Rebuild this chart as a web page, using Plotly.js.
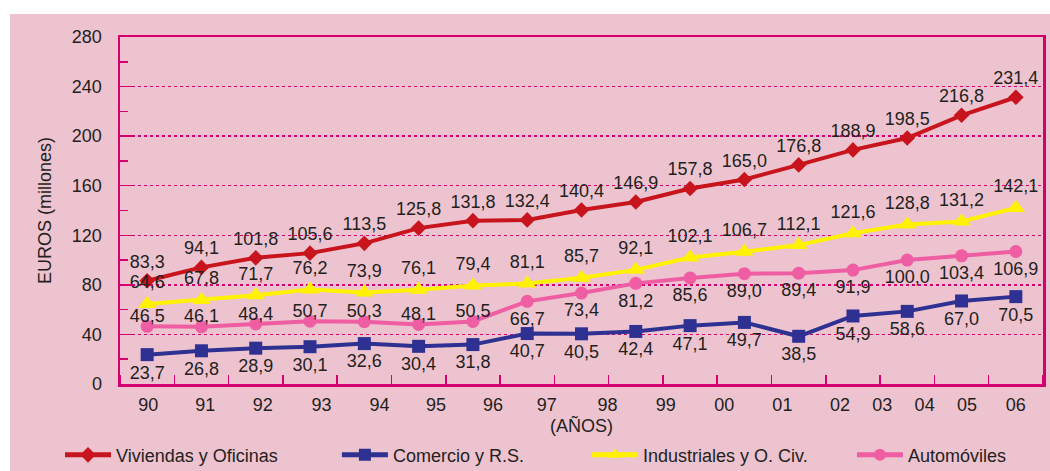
<!DOCTYPE html>
<html>
<head>
<meta charset="utf-8">
<script src="https://cdn.plot.ly/plotly-3.0.1.min.js"></script>
<style>
  html, body { margin: 0; padding: 0; background: #ffffff; width: 1050px; height: 471px; overflow: hidden; }
  #chart { position: absolute; left: 10px; top: 14px; width: 1040px; height: 457px; }
</style>
</head>
<body>
<div id="chart"></div>
<script>
// ---- data ----
const years = ["90","91","92","93","94","95","96","97","98","99","00","01","02","03","04","05","06"];
const viviendas   = [83.3, 94.1, 101.8, 105.6, 113.5, 125.8, 131.8, 132.4, 140.4, 146.9, 157.8, 165.0, 176.8, 188.9, 198.5, 216.8, 231.4];
const comercio    = [23.7, 26.8, 28.9, 30.1, 32.6, 30.4, 31.8, 40.7, 40.5, 42.4, 47.1, 49.7, 38.5, 54.9, 58.6, 67.0, 70.5];
const industriales= [64.6, 67.8, 71.7, 76.2, 73.9, 76.1, 79.4, 81.1, 85.7, 92.1, 102.1, 106.7, 112.1, 121.6, 128.8, 131.2, 142.1];
const automoviles = [46.5, 46.1, 48.4, 50.7, 50.3, 48.1, 50.5, 66.7, 73.4, 81.2, 85.6, 89.0, 89.4, 91.9, 100.0, 103.4, 106.9];
const seriesNames = ["Viviendas y Oficinas", "Comercio y R.S.", "Industriales y O. Civ.", "Automóviles"];

// ---- layout helpers (positions of the printed year labels, as in the original) ----
const idx = years.map((_, i) => i);
const labelPos = [0.02, 1.07, 2.13, 3.21, 4.28, 5.32, 6.37, 7.36, 8.48, 9.55, 10.63, 11.70, 12.76, 13.54, 14.32, 15.10, 16.0];

const MAG = "#d4006f";
const TXT = "#231f20";
const FONT = "Liberation Sans, Arial, sans-serif";
const LBL = { family: FONT, size: 18, color: TXT };

function line(y, name, color, symbol, size, legendId) {
  return {
    x: idx, y: y, name: name, type: "scatter", mode: "lines+markers",
    line: { color: color, width: 4 },
    marker: { color: color, symbol: symbol, size: size },
    cliponaxis: false, hoverinfo: "skip", legend: legendId
  };
}

// value labels, drawn above all lines; the invisible marker size sets the label offset
function labels(y, pos, gap, tmpl) {
  return {
    x: idx, y: y, type: "scatter", mode: gap > 0 ? "markers+text" : "text", showlegend: false,
    marker: { size: gap, opacity: 0 },
    texttemplate: tmpl || "%{y:.1f}", textposition: pos, textfont: LBL,
    cliponaxis: false, hoverinfo: "skip"
  };
}

// Automóviles: labels above the points up to 96, below from 97 on
const autoBelow = automoviles.map((_, i) => i < 7 ? "" : "%{y:.1f}");
const autoAbove = automoviles.map((_, i) => i < 7 ? "%{y:.1f}" : "");

const data = [
  line(comercio, seriesNames[1], "#2e3192", "square", 13, "legend2"),
  line(automoviles, seriesNames[3], "#ef5da2", "circle", 13, "legend4"),
  line(industriales, seriesNames[2], "#fff200", "triangle-up", 16, "legend3"),
  line(viviendas, seriesNames[0], "#c8151d", "diamond", 12, "legend"),
  labels(comercio, "bottom center", 15),
  labels(automoviles, "bottom center", 14, autoBelow),
  labels(automoviles, "top center", 0, autoAbove),
  labels(industriales, "top center", 16),
  labels(viviendas, "top center", 12)
];

function leg(x) {
  return { x: x, y: -0.205, xanchor: "left", yanchor: "middle", orientation: "h",
           bgcolor: "rgba(0,0,0,0)", font: { family: FONT, size: 18, color: TXT },
           itemsizing: "constant", itemwidth: 46 };
}

const layout = {
  width: 1040, height: 457,
  paper_bgcolor: "#edc3cf", plot_bgcolor: "#edc3cf",
  margin: { l: 110, r: 7, t: 23, b: 87, autoexpand: false },
  separators: ",.",
  font: { family: FONT, size: 18, color: TXT },
  showlegend: true,
  legend: leg(-0.065),
  legend2: leg(0.235),
  legend3: leg(0.506),
  legend4: leg(0.793),
  xaxis: {
    range: [-0.5, 16.5], fixedrange: true,
    tickmode: "array", tickvals: labelPos, ticktext: years, ticks: "",
    tickfont: { family: FONT, size: 18, color: TXT },
    ticklabelstandoff: 3,
    showgrid: false, zeroline: false,
    showline: true, linecolor: MAG, linewidth: 2.5, mirror: true,
    minor: { tickmode: "linear", tick0: 0.5, dtick: 1, ticks: "inside", ticklen: 9, tickcolor: MAG, tickwidth: 1.5, showgrid: false },
    title: { text: "(AÑOS)", font: { family: FONT, size: 18, color: TXT }, standoff: 6 }
  },
  yaxis: {
    range: [0, 280], fixedrange: true,
    tickmode: "linear", tick0: 0, dtick: 40,
    ticks: "inside", ticklen: 14, tickcolor: MAG, tickwidth: 1.5,
    tickfont: { family: FONT, size: 18, color: TXT },
    ticklabelstandoff: 12,
    showgrid: true, gridcolor: MAG, gridwidth: 1.5, griddash: "dot",
    zeroline: false,
    showline: true, linecolor: MAG, linewidth: 2.5, mirror: true,
    minor: { tick0: 20, dtick: 40, ticks: "inside", ticklen: 8, tickcolor: MAG, tickwidth: 1.5, showgrid: false },
    title: { text: "EUROS (millones)", font: { family: FONT, size: 18, color: TXT }, standoff: 16 }
  }
};

Plotly.newPlot("chart", data, layout, { displayModeBar: false, staticPlot: true });
</script>
</body>
</html>
